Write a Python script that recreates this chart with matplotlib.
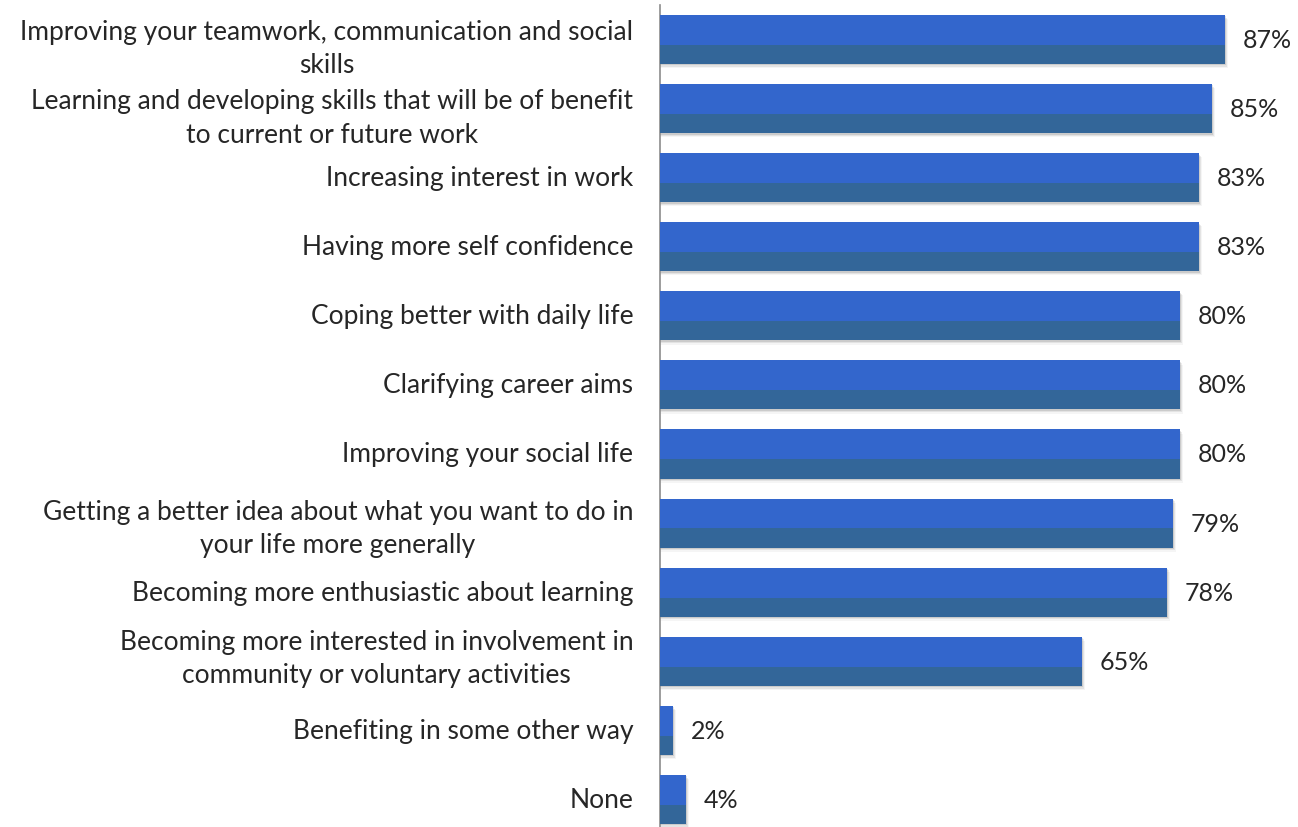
import matplotlib
matplotlib.use("Agg")
import matplotlib.pyplot as plt

categories = [
    "Improving your teamwork, communication and social\nskills",
    "Learning and developing skills that will be of benefit\nto current or future work",
    "Increasing interest in work",
    "Having more self confidence",
    "Coping better with daily life",
    "Clarifying career aims",
    "Improving your social life",
    "Getting a better idea about what you want to do in\nyour life more generally",
    "Becoming more enthusiastic about learning",
    "Becoming more interested in involvement in\ncommunity or voluntary activities",
    "Benefiting in some other way",
    "None",
]
values = [87, 85, 83, 83, 80, 80, 80, 79, 78, 65, 2, 4]

W, H = 1298, 828
fig = plt.figure(figsize=(W / 100, H / 100), dpi=100)
ax = fig.add_axes([660 / W, 0, (W - 660) / W, (828 - 6) / H])

bar_h = 0.71
top_frac = 0.61
light = "#3366CC"
dark = "#336699"
text_color = "#262626"
ypos = list(range(len(values)))

# small vertical nudges for the wrapped labels
label_shift = {0: 0.12, 1: 0.13, 7: 0.07, 9: -0.05}

for y, v in zip(ypos, values):
    top = y - bar_h / 2
    # soft drop shadow under each bar
    for k, a in enumerate([0.10, 0.07, 0.04]):
        ax.barh(y + 0.02 * (k + 1), v + 0.15 * (k + 1), height=bar_h,
                left=0, color="#000000", alpha=a, align="center", zorder=1, lw=0)
    ax.barh(top + bar_h * top_frac / 2, v, height=bar_h * top_frac, color=light,
            align="center", zorder=3, lw=0)
    ax.barh(top + bar_h * top_frac + bar_h * (1 - top_frac) / 2, v,
            height=bar_h * (1 - top_frac), color=dark, align="center", zorder=3, lw=0)
    ax.text(v + 2.7, y, f"{v}%", va="center", ha="left", fontsize=18,
            family="Lato", color=text_color)

for i, (y, lab) in enumerate(zip(ypos, categories)):
    ax.text(-4.1, y + label_shift.get(i, 0), lab, va="center", ha="right",
            multialignment="center", fontsize=19, family="Lato",
            color=text_color, linespacing=1.42)

ax.set_xlim(0, 98.2)
ax.set_ylim(11.4, -0.5)
for s in ["top", "right", "bottom"]:
    ax.spines[s].set_visible(False)
ax.spines["left"].set_color("#8c8c8c")
ax.spines["left"].set_linewidth(1.2)
ax.set_xticks([])
ax.set_yticks([])
ax.patch.set_alpha(0)

fig.savefig("out.png", dpi=100, facecolor="white")
